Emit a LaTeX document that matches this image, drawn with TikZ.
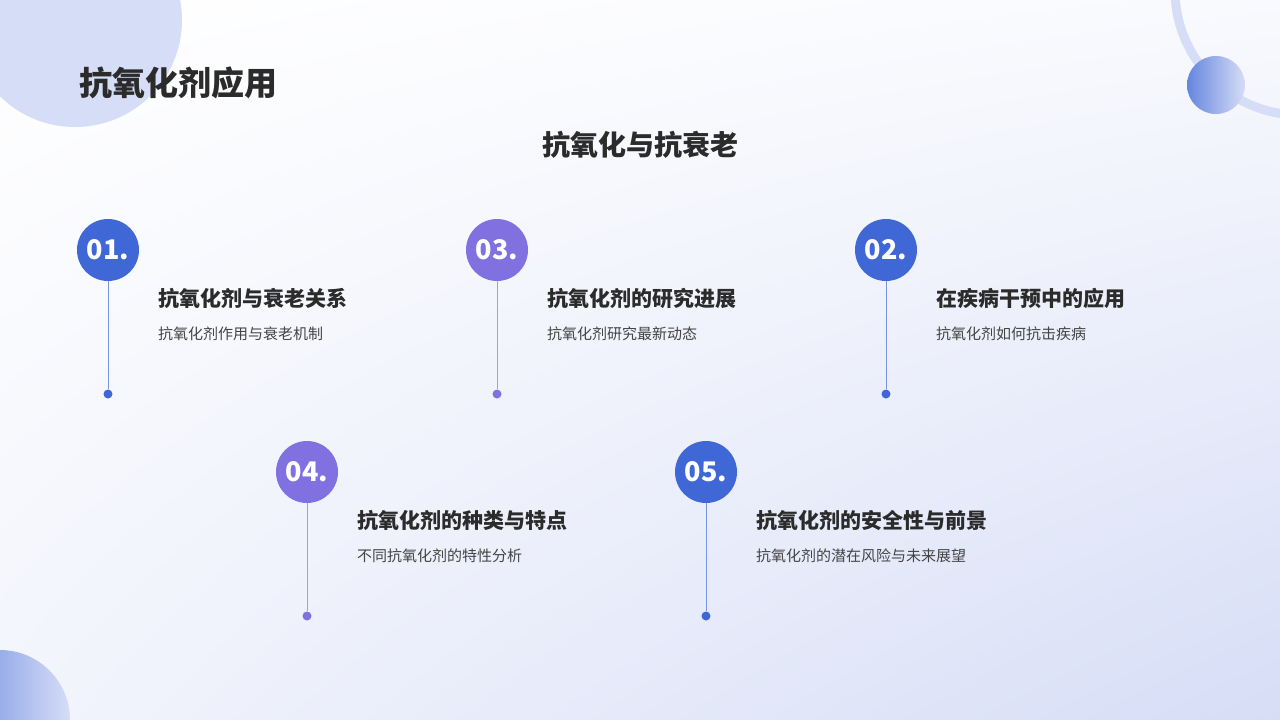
\documentclass[tikz,border=0pt]{standalone}
\usepackage{fontspec}
\setmainfont{Noto Sans CJK SC}
\usetikzlibrary{calc,shadings}
\definecolor{bl}{HTML}{3F67D6}
\definecolor{pu}{HTML}{8070E0}
\definecolor{deco}{HTML}{D6DDF6}
\definecolor{tx}{HTML}{2B2B2B}
\definecolor{sub}{HTML}{444444}
\tikzset{
 num/.style={circle,minimum size=62pt,inner sep=0pt,text=white,font=\fontsize{27}{27}\selectfont\bfseries},
 ttl/.style={anchor=west,text=tx,font=\fontsize{21}{21}\selectfont\bfseries,inner sep=0pt},
 dsc/.style={anchor=west,text=sub,font=\fontsize{15}{15}\selectfont,inner sep=0pt},
 dot/.style={circle,minimum size=9pt,inner sep=0pt}
}
\newcommand{\stepitem}[6]{%
 \node[num,fill=#4] (n#1) at (#2,#3) {#1.};
 \node[dot,fill=#4] (d#1) at (#2,#3+144) {};
 \draw[#4!70,line width=1pt] (n#1.south) -- (d#1.north);
 \node[ttl] (t#1) at (#2+50,#3+48) {#5};
 \node[dsc] (s#1) at (#2+50,#3+84) {#6};
}
\begin{document}
\begin{tikzpicture}[x=1pt,y=-1pt]
\shade[upper left=white,upper right=white!85!deco,lower left=white!70!deco,lower right=deco] (0,0) rectangle (1280,720);
\useasboundingbox (0,0) rectangle (1280,720);
\begin{scope}
\clip (0,0) rectangle (1280,720);
\fill[deco] (75,20) circle (107);
\draw[deco,line width=9pt] (1300,-10) circle (125);
\shade[left color=bl!80,right color=deco] (1216,85) circle (29);
\shade[left color=bl!85,right color=deco] (0,720) circle (70);
\end{scope}
\node[anchor=west,text=tx,font=\fontsize{33}{33}\selectfont\bfseries,inner sep=0pt] (title) at (79,83) {抗氧化剂应用};
\node[text=tx,font=\fontsize{28}{28}\selectfont\bfseries,inner sep=0pt] (sub) at (640,145) {抗氧化与抗衰老};
\stepitem{01}{108}{250}{bl}{抗氧化剂与衰老关系}{抗氧化剂作用与衰老机制}
\stepitem{03}{497}{250}{pu}{抗氧化剂的研究进展}{抗氧化剂研究最新动态}
\stepitem{02}{886}{250}{bl}{在疾病干预中的应用}{抗氧化剂如何抗击疾病}
\stepitem{04}{307}{472}{pu}{抗氧化剂的种类与特点}{不同抗氧化剂的特性分析}
\stepitem{05}{706}{472}{bl}{抗氧化剂的安全性与前景}{抗氧化剂的潜在风险与未来展望}
\end{tikzpicture}
\end{document}
